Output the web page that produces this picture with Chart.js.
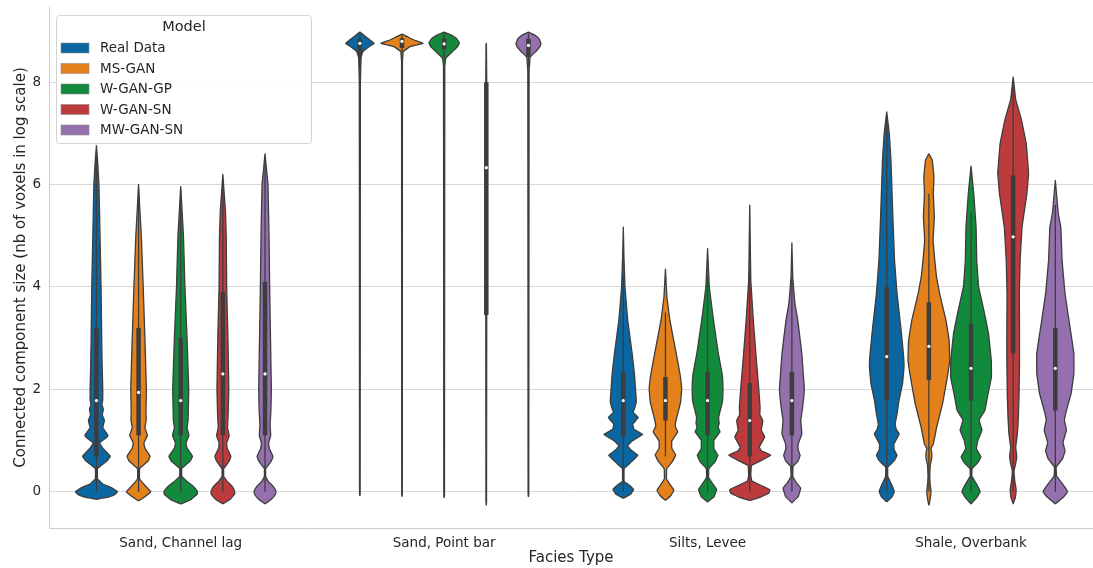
<!DOCTYPE html>
<html>
<head>
<meta charset="utf-8">
<title>Connected component size by facies</title>
<script src="https://cdn.jsdelivr.net/npm/chart.js@4.4.1/dist/chart.umd.min.js"></script>
<style>
  html, body { margin: 0; padding: 0; background: #ffffff; }
  #wrap { width: 1093px; height: 568px; position: relative; }
</style>
</head>
<body>
<div id="wrap"><canvas id="chart"></canvas></div>
<script>
// Categories and legend
const facies = ["Sand, Channel lag", "Sand, Point bar", "Silts, Levee", "Shale, Overbank"];
const models = ["Real Data", "MS-GAN", "W-GAN-GP", "W-GAN-SN", "MW-GAN-SN"];
const yTicks = [0, 2, 4, 6, 8];

// Violin outlines: [value, relative density (1 = widest violin)]
const lagReal = [[-0.15,0],[-0.1,0.6],[-0.05,0.9],[0,1.0],[0.08,0.7],[0.15,0.3],[0.25,0.05],[0.45,0.05],[0.6,0.5],[0.69,0.66],[0.85,0.3],[0.95,0.15],[1.05,0.45],[1.1,0.55],[1.25,0.3],[1.39,0.38],[1.5,0.28],[1.61,0.33],[1.7,0.26],[1.79,0.3],[2.0,0.3],[2.5,0.27],[3.0,0.25],[4.0,0.22],[5.0,0.17],[6.0,0.12],[6.5,0.05],[6.76,0]];
const lagMs = [[-0.18,0],[-0.1,0.3],[0,0.58],[0.1,0.35],[0.25,0.05],[0.45,0.05],[0.6,0.45],[0.69,0.55],[0.85,0.3],[0.95,0.25],[1.1,0.42],[1.25,0.3],[1.39,0.36],[1.6,0.35],[2.0,0.37],[3.0,0.3],[4.0,0.22],[5.0,0.13],[5.6,0.05],[6.0,0]];
const lagGp = [[-0.24,0],[-0.15,0.5],[-0.05,0.78],[0,0.8],[0.1,0.6],[0.2,0.3],[0.3,0.05],[0.45,0.05],[0.6,0.45],[0.69,0.56],[0.85,0.3],[0.95,0.25],[1.1,0.39],[1.25,0.3],[1.39,0.35],[1.6,0.36],[2.0,0.38],[3.0,0.3],[4.0,0.2],[5.0,0.13],[5.6,0.05],[5.96,0]];
const lagSn = [[-0.24,0],[-0.15,0.35],[-0.05,0.55],[0,0.56],[0.1,0.45],[0.2,0.2],[0.3,0.04],[0.45,0.04],[0.6,0.3],[0.69,0.38],[0.85,0.2],[0.95,0.18],[1.1,0.3],[1.25,0.22],[1.5,0.25],[2.0,0.28],[3.0,0.24],[4.0,0.18],[5.0,0.16],[5.5,0.12],[5.9,0.05],[6.2,0]];
const lagMw = [[-0.24,0],[-0.15,0.3],[-0.05,0.5],[0,0.52],[0.1,0.4],[0.2,0.15],[0.3,0.03],[0.45,0.03],[0.6,0.3],[0.69,0.38],[0.85,0.2],[0.95,0.17],[1.1,0.27],[1.3,0.24],[1.6,0.28],[2.0,0.3],[3.0,0.26],[4.0,0.22],[5.0,0.19],[6.0,0.14],[6.3,0.07],[6.6,0]];

const barReal = [[-0.08,0],[-0.05,0.015],[8.0,0.025],[8.5,0.06],[8.6,0.15],[8.7,0.45],[8.76,0.68],[8.82,0.5],[8.9,0.25],[8.98,0]];
const barMs = [[-0.1,0],[-0.05,0.015],[8.4,0.02],[8.6,0.06],[8.7,0.4],[8.76,1.0],[8.82,0.6],[8.88,0.3],[8.94,0]];
const barGp = [[-0.12,0],[-0.08,0.015],[8.3,0.03],[8.47,0.08],[8.6,0.4],[8.7,0.65],[8.77,0.72],[8.85,0.6],[8.93,0.3],[8.98,0]];
const barSn = [[-0.27,0],[-0.2,0.01],[3.4,0.02],[6.0,0.035],[7.0,0.04],[8.0,0.02],[8.7,0.005],[8.76,0]];
const barMw = [[-0.1,0],[-0.06,0.015],[8.2,0.03],[8.49,0.08],[8.6,0.35],[8.7,0.55],[8.76,0.59],[8.85,0.5],[8.92,0.3],[8.98,0]];

const levReal = [[-0.13,0],[-0.05,0.35],[0.04,0.49],[0.12,0.3],[0.2,0.04],[0.45,0.04],[0.55,0.3],[0.71,0.69],[0.82,0.35],[0.9,0.2],[1.0,0.45],[1.12,0.92],[1.22,0.5],[1.32,0.45],[1.45,0.71],[1.55,0.47],[1.65,0.55],[1.75,0.62],[2.0,0.58],[2.3,0.53],[2.7,0.42],[3.35,0.21],[4.0,0.08],[4.6,0.03],[5.17,0]];
const levMs = [[-0.17,0],[-0.08,0.25],[0.03,0.4],[0.12,0.25],[0.25,0.05],[0.45,0.06],[0.6,0.35],[0.72,0.49],[0.85,0.3],[0.99,0.3],[1.17,0.58],[1.28,0.46],[1.39,0.5],[1.52,0.58],[1.75,0.72],[2.0,0.77],[2.3,0.69],[2.7,0.51],[3.35,0.21],[3.8,0.07],[4.35,0]];
const levGp = [[-0.2,0],[-0.1,0.3],[0.04,0.43],[0.15,0.25],[0.28,0.05],[0.45,0.06],[0.58,0.35],[0.71,0.49],[0.84,0.3],[1.0,0.3],[1.17,0.59],[1.26,0.5],[1.33,0.55],[1.45,0.52],[1.75,0.7],[2.0,0.73],[2.3,0.69],[2.7,0.51],[3.35,0.28],[4.0,0.08],[4.75,0]];
const levSn = [[-0.17,0],[-0.1,0.55],[-0.03,0.9],[0.04,0.96],[0.12,0.55],[0.21,0.1],[0.32,0.05],[0.51,0.08],[0.62,0.6],[0.71,1.0],[0.8,0.55],[0.87,0.45],[1.07,0.71],[1.2,0.55],[1.39,0.62],[1.5,0.48],[1.65,0.49],[2.05,0.42],[2.7,0.29],[3.35,0.17],[4.13,0.05],[5.0,0.02],[5.6,0]];
const levMw = [[-0.22,0],[-0.1,0.3],[0.07,0.42],[0.18,0.2],[0.3,0.04],[0.5,0.06],[0.6,0.3],[0.71,0.39],[0.82,0.3],[0.93,0.3],[1.13,0.47],[1.39,0.42],[1.65,0.51],[2.0,0.59],[2.3,0.54],[2.7,0.47],[3.35,0.28],[3.68,0.14],[4.2,0.04],[4.86,0]];

const shaleReal = [[-0.2,0],[-0.1,0.25],[0,0.36],[0.12,0.25],[0.3,0.05],[0.48,0.05],[0.6,0.35],[0.71,0.49],[0.82,0.35],[0.93,0.34],[1.13,0.59],[1.22,0.45],[1.32,0.4],[1.52,0.49],[1.78,0.58],[2.11,0.75],[2.43,0.82],[2.7,0.79],[3.2,0.67],[3.87,0.49],[4.52,0.37],[5.5,0.28],[6.48,0.2],[7.0,0.12],[7.42,0]];
const shaleMs = [[-0.27,0],[-0.15,0.06],[0.02,0.1],[0.15,0.06],[0.28,0.04],[0.51,0.06],[0.62,0.12],[0.74,0.14],[0.85,0.1],[0.93,0.21],[1.26,0.37],[1.72,0.65],[2.18,0.85],[2.57,0.99],[2.96,0.96],[3.35,0.81],[3.87,0.51],[4.2,0.36],[4.52,0.28],[4.91,0.2],[5.37,0.26],[5.82,0.21],[6.15,0.24],[6.48,0.16],[6.6,0]];
const shaleGp = [[-0.24,0],[-0.1,0.3],[0,0.43],[0.12,0.3],[0.3,0.04],[0.45,0.05],[0.58,0.35],[0.68,0.47],[0.84,0.25],[1.0,0.32],[1.2,0.52],[1.4,0.38],[1.59,0.66],[1.92,0.81],[2.24,0.97],[2.57,0.96],[3.09,0.83],[3.54,0.61],[4.0,0.36],[4.52,0.27],[5.17,0.24],[5.82,0.13],[6.36,0]];
const shaleSn = [[-0.24,0],[-0.12,0.1],[0.05,0.14],[0.2,0.08],[0.41,0.04],[0.55,0.12],[0.68,0.17],[0.87,0.12],[1.13,0.2],[1.4,0.24],[1.92,0.28],[2.57,0.3],[3.2,0.3],[3.87,0.29],[4.52,0.33],[5.17,0.42],[5.82,0.65],[6.22,0.73],[6.8,0.62],[7.27,0.39],[7.66,0.12],[8.1,0]];
const shaleMw = [[-0.24,0],[-0.1,0.4],[0,0.58],[0.12,0.4],[0.3,0.06],[0.48,0.04],[0.65,0.35],[0.8,0.46],[0.96,0.36],[1.2,0.53],[1.4,0.43],[1.59,0.53],[1.92,0.75],[2.31,0.88],[2.7,0.88],[3.2,0.7],[3.87,0.46],[4.52,0.32],[5.17,0.26],[5.43,0.14],[6.08,0]];

// Inner box stats per model: [whisker low, q1, median, q3, whisker high]
const lagStats = [[0,0.69,1.78,3.2,6.6],[0,1.1,1.94,3.2,5.9],[0,1.1,1.78,3.0,5.9],[0,1.1,2.3,3.9,6.1],[0,1.1,2.3,4.1,6.5]];
const barStats = [[8.3,8.5,8.76,8.85,8.95],[8.5,8.67,8.8,8.86,8.92],[8.45,8.64,8.75,8.85,8.95],[-0.2,3.45,6.33,8.0,8.74],[8.3,8.5,8.72,8.85,8.95]];
const levStats = [[0,1.07,1.78,2.34,4.25],[0.69,1.39,1.78,2.24,3.5],[0,1.1,1.78,2.34,4.2],[0,0.69,1.39,2.12,4.3],[0,1.1,1.78,2.34,4.2]];
const shaleStats = [[0,1.78,2.64,4.0,7.3],[0,2.18,2.84,3.7,5.82],[0,1.78,2.41,3.28,5.46],[0,2.7,4.98,6.18,8.0],[0,1.59,2.41,3.2,5.6]];

const profiles = [
  [lagReal, lagMs, lagGp, lagSn, lagMw],
  [barReal, barMs, barGp, barSn, barMw],
  [levReal, levMs, levGp, levSn, levMw],
  [shaleReal, shaleMs, shaleGp, shaleSn, shaleMw],
];
const stats = [lagStats, barStats, levStats, shaleStats];

// Styles
const modelColors = ["#0a67a1", "#e5811a", "#128a3b", "#be3b3d", "#9470ae"];
const edgeColor = "#3d3d3d";
const HUE_STEP = 0.16;   // spacing between models in a group (x units)
const HALF_MAX = 0.08;   // half width of the widest violin (x units)
const FONT = "'DejaVu Sans', sans-serif";

const datasets = [];
profiles.forEach((group, g) => {
  group.forEach((prof, m) => {
    const cx = g + (m - 2) * HUE_STEP;
    const right = prof.map(([y, w]) => ({ x: cx + w * HALF_MAX, y: y }));
    const left = prof.slice().reverse().map(([y, w]) => ({ x: cx - w * HALF_MAX, y: y }));
    const outline = right.concat(left);
    outline.push(right[0]);
    datasets.push({
      data: outline,
      showLine: true,
      fill: "shape",
      backgroundColor: modelColors[m],
      borderColor: edgeColor,
      borderWidth: 1.3,
      borderJoinStyle: "round",
      pointRadius: 0,
      tension: 0.05,   // non-zero so the outline is not drawn with the x-sorted fast path
      order: 3,
    });
    const [lo, q1, med, q3, hi] = stats[g][m];
    datasets.push({
      data: [{ x: cx, y: lo }, { x: cx, y: hi }],
      showLine: true, borderColor: edgeColor, borderWidth: 1.3, pointRadius: 0, order: 2,
    });
    datasets.push({
      data: [{ x: cx, y: q1 }, { x: cx, y: q3 }],
      showLine: true, borderColor: edgeColor, borderWidth: 4.5, borderCapStyle: "butt", pointRadius: 0, order: 1,
    });
    datasets.push({
      data: [{ x: cx, y: med }],
      pointRadius: 1.6, pointBackgroundColor: "#ffffff", pointBorderWidth: 0, order: 0,
    });
  });
});

// Legend box drawn in the top-left corner of the plot
const legendBox = {
  id: "legendBox",
  afterDraw(chart) {
    const ctx = chart.ctx;
    ctx.save();
    ctx.beginPath();
    ctx.roundRect(56.5, 15.5, 255, 128, 3);
    ctx.fillStyle = "rgba(255,255,255,0.85)";
    ctx.fill();
    ctx.strokeStyle = "#d4d4d4";
    ctx.lineWidth = 1;
    ctx.stroke();
    ctx.fillStyle = "#262626";
    ctx.textBaseline = "middle";
    ctx.textAlign = "center";
    ctx.font = "14.5px " + FONT;
    ctx.fillText("Model", 184, 27);
    ctx.textAlign = "left";
    ctx.font = "13.5px " + FONT;
    models.forEach((name, i) => {
      const yc = 48 + i * 20.5;
      ctx.fillStyle = modelColors[i];
      ctx.fillRect(61, yc - 5, 28, 10);
      ctx.strokeStyle = "#8a8a8a";
      ctx.lineWidth = 0.6;
      ctx.strokeRect(61, yc - 5, 28, 10);
      ctx.fillStyle = "#262626";
      ctx.fillText(name, 100, yc + 0.5);
    });
    ctx.restore();
  },
};

// pin the scale boxes so the plot area matches the picture
function noEdgePadding(scale) {
  scale.paddingTop = 0;
  scale.paddingBottom = 0;
  scale.paddingLeft = 0;
  scale.paddingRight = 0;
}

const ctx = document.getElementById("chart").getContext("2d");
const chart = new Chart(ctx, {
  type: "scatter",
  data: { datasets: datasets },
  options: {
    responsive: true,
    maintainAspectRatio: false,
    animation: false,
    layout: { autoPadding: false, padding: { top: 7, right: 0, left: 0, bottom: 0 } },
    plugins: { legend: { display: false }, tooltip: { enabled: false } },
    scales: {
      x: {
        type: "linear",
        min: -0.5,
        max: 3.463,
        afterBuildTicks: (scale) => { scale.ticks = facies.map((_, i) => ({ value: i })); },
        afterFit: (scale) => { scale.height = 40; noEdgePadding(scale); },
        ticks: {
          callback: (v) => facies[v],
          color: "#262626",
          font: { family: FONT, size: 13.5 },
          padding: 7,
          maxRotation: 0,
        },
        grid: { display: false, drawTicks: false },
        border: { display: true, color: "#cccccc", width: 1 },
        title: {
          display: true,
          text: "Facies Type",
          color: "#262626",
          font: { family: FONT, size: 15 },
          padding: { top: 0, bottom: 1 },
        },
      },
      y: {
        type: "linear",
        min: -0.71,
        max: 9.47,
        afterBuildTicks: (scale) => { scale.ticks = yTicks.map((v) => ({ value: v })); },
        afterFit: (scale) => { scale.width = 49; noEdgePadding(scale); },
        ticks: {
          color: "#262626",
          font: { family: FONT, size: 13.5 },
          padding: 8,
        },
        grid: { color: "#d9d9d9", lineWidth: 1, drawTicks: false },
        border: { display: true, color: "#cccccc", width: 1 },
        title: {
          display: true,
          text: "Connected component size (nb of voxels in log scale)",
          color: "#262626",
          font: { family: FONT, size: 15 },
          padding: { top: 12, bottom: 0 },
        },
      },
    },
  },
  plugins: [legendBox],
});
</script>
</body>
</html>
